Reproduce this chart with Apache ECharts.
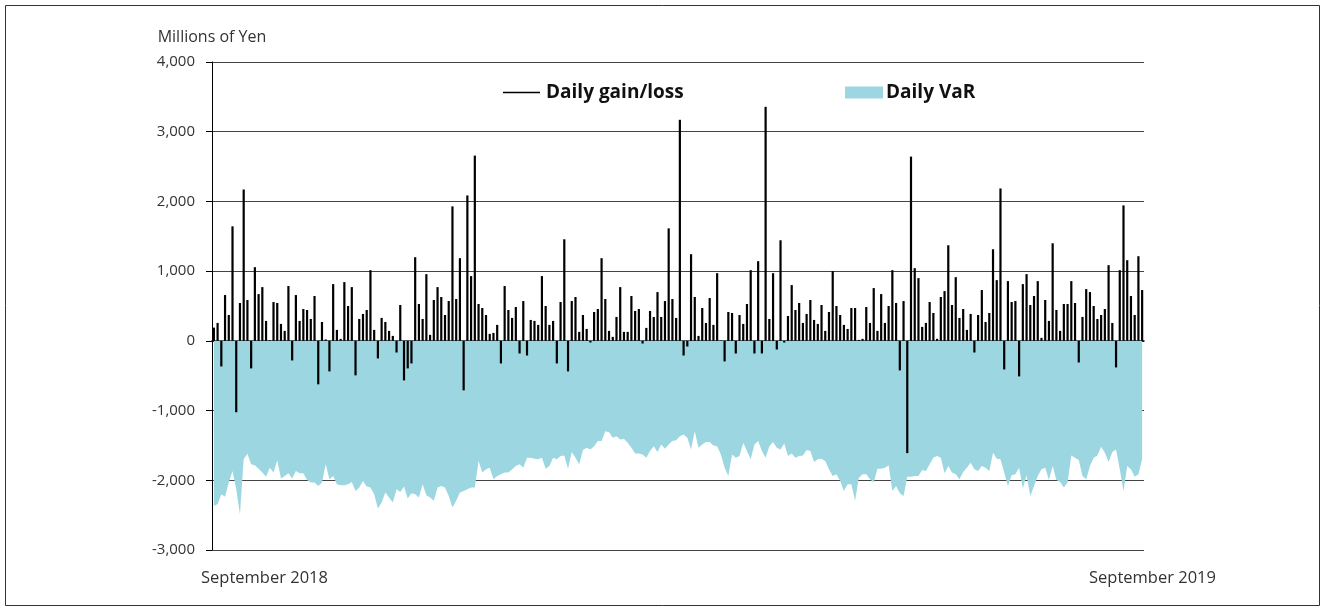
<!DOCTYPE html>
<html>
<head>
<meta charset="utf-8">
<script src="https://cdn.jsdelivr.net/npm/echarts@6/dist/echarts.min.js"></script>
<style>
html,body{margin:0;padding:0;background:#fff;}
#chart{width:1326px;height:609px;}
</style>
</head>
<body>
<div id="chart"></div>
<script>
// Daily gain/loss (millions of yen), Sept 2018 -> Sept 2019
const gainLoss = [
 190,257,-367,657,371,1643,-1024,543,2171,586,-395,1057,671,771,286,10,557,543,243,143,786,-281,657,286,457,443,314,643,-624,271,20,-438,814,157,29,843,500,771,-495,314,386,
 443,1014,157,-252,329,271,143,71,-167,514,-567,-395,-324,1200,529,314,957,86,586,771,629,371,571,1929,600,1186,-710,2086,929,2657,529,471,371,100,114,229,-324,786,443,329,486,
 -181,571,-210,300,286,229,929,500,229,286,-324,557,1457,-438,571,629,129,371,171,-24,414,457,1186,600,143,57,343,771,129,129,643,429,457,-38,186,429,343,700,343,571,1614,600,
 329,3171,-210,-81,1243,629,71,471,257,614,229,971,5,-295,414,400,-181,371,243,529,1014,-181,1143,-181,3357,314,971,-124,1443,-24,357,800,443,543,257,386,586,300,243,514,143,414,
 1000,500,371,229,171,471,471,14,29,486,257,757,143,671,257,500,1014,543,-424,571,-1610,2643,1043,900,200,257,557,400,29,629,714,1371,514,914,329,457,157,386,-167,371,729,
 271,400,1314,871,2186,-410,857,557,571,-510,814,957,514,643,857,43,586,286,1400,443,143,529,529,857,543,-310,343,743,700,500,314,371,457,1086,257,-381,1014,1943,1157,643,371,1214,729
];
// Daily VaR (millions of yen)
const dailyVaR = [
 -2367,-2343,-2200,-2236,-2033,-1867,-2128,-2486,-1700,-1619,-1771,-1786,-1833,-1890,-1948,-1819,-1890,-1714,-1976,-1938,-1900,-1976,-1867,-1900,-1900,-1995,-2033,-2033,-2081,-2033,-1771,-1986,-1938,-2057,-2071,-2071,-2057,-2024,-2152,-2105,-2010,
 -2090,-2105,-2200,-2405,-2319,-2176,-2248,-2319,-2128,-2167,-2090,-2262,-2186,-2200,-2248,-2057,-2214,-2248,-2295,-2105,-2081,-2105,-2224,-2390,-2295,-2176,-2152,-2128,-2105,-2105,-1724,-1890,-1843,-1819,-1986,-1938,-1914,-1890,-1890,-1843,-1795,
 -1771,-1819,-1676,-1676,-1690,-1700,-1676,-1833,-1795,-1676,-1700,-1652,-1643,-1833,-1595,-1676,-1771,-1567,-1533,-1557,-1510,-1438,-1438,-1295,-1310,-1390,-1367,-1414,-1405,-1462,-1533,-1614,-1614,-1629,-1676,-1581,-1510,-1595,-1486,-1548,-1486,-1438,
 -1424,-1367,-1343,-1390,-1557,-1295,-1533,-1486,-1452,-1452,-1500,-1510,-1629,-1819,-1938,-1629,-1676,-1652,-1462,-1581,-1700,-1486,-1438,-1581,-1676,-1510,-1452,-1533,-1557,-1471,-1652,-1614,-1676,-1652,-1643,-1567,-1581,-1738,-1700,-1690,-1724,-1843,
 -1938,-1914,-2010,-2152,-2057,-2057,-2295,-1962,-1914,-1914,-1986,-2033,-1833,-1833,-1819,-1786,-2152,-2081,-2186,-2224,-1948,-1948,-1938,-1938,-1852,-1867,-1771,-1676,-1652,-1676,-1900,-1795,-1890,-1914,-1986,-1881,-1819,-1748,-1843,-1867,-1795,
 -1819,-1867,-1605,-1690,-1700,-1890,-2081,-1929,-1914,-1819,-2119,-1929,-2224,-2081,-1938,-1843,-1819,-1995,-1795,-1995,-2024,-2105,-2033,-1643,-1676,-1710,-1938,-1986,-1795,-1676,-1643,-1519,-1605,-1738,-1595,-1557,-1843,-2152,-1795,-1843,-1948,-1914,-1700
];
const days = gainLoss.map((_, i) => 'Day ' + (i + 1));
const xEndLabels = ['September 2018', 'September 2019'];
const seriesNames = ['Daily gain/loss', 'Daily VaR'];
const yTitle = 'Millions of Yen';

const FONT = '"Open Sans", "Noto Sans", sans-serif';
const VAR_COLOR = '#9CD6E1';

const chart = echarts.init(document.getElementById('chart'), null, {renderer: 'canvas'});
chart.setOption({
  animation: false,
  textStyle: {fontFamily: FONT},
  grid: {left: 212, right: 182, top: 62, bottom: 59},
  legend: [
    {
      data: [{name: seriesNames[0], icon: 'path://M0,0H40V1.7H0Z'}],
      left: 503, top: 83, padding: 0, itemWidth: 37, itemHeight: 12, itemGap: 0,
      textStyle: {fontSize: 19, fontWeight: 'bold', color: '#111', fontFamily: FONT, padding: [0, 0, 0, 1]}
    },
    {
      data: [{name: seriesNames[1], icon: 'rect'}],
      left: 845, top: 83, padding: 0, itemWidth: 38, itemHeight: 12, itemGap: 0,
      textStyle: {fontSize: 19, fontWeight: 'bold', color: '#111', fontFamily: FONT, padding: [0, 0, 0, -2]}
    }
  ],
  xAxis: {
    type: 'category',
    data: days,
    boundaryGap: true,
    axisLine: {onZero: true, lineStyle: {color: '#000', width: 1.5}},
    axisTick: {show: false},
    axisLabel: {show: false},
    splitLine: {show: false}
  },
  yAxis: {
    type: 'value',
    min: -3000, max: 4000, interval: 1000,
    name: yTitle,
    nameLocation: 'end',
    nameGap: 17,
    nameTextStyle: {fontSize: 16, color: '#333', fontFamily: FONT, align: 'center'},
    axisLine: {show: true, lineStyle: {color: '#000', width: 1}},
    axisTick: {show: true, length: 6, lineStyle: {color: '#000'}},
    axisLabel: {fontSize: 15, color: '#333', margin: 17, fontFamily: FONT,
      formatter: v => v.toLocaleString('en-US')},
    splitLine: {show: true, lineStyle: {color: '#444', width: 1}}
  },
  series: [
    {
      name: seriesNames[1], type: 'line', data: dailyVaR,
      showSymbol: false, symbol: 'none',
      lineStyle: {width: 0, color: VAR_COLOR},
      itemStyle: {color: VAR_COLOR},
      areaStyle: {color: VAR_COLOR, opacity: 1},
      z: 1
    },
    {
      name: seriesNames[0], type: 'bar', data: gainLoss,
      barWidth: 2.2,
      itemStyle: {color: '#000'},
      z: 3
    }
  ],
  graphic: [
    {type: 'rect', silent: true, shape: {x: 5.5, y: 5.5, width: 1314, height: 600},
     style: {fill: 'none', stroke: '#333', lineWidth: 1}},
    {type: 'text', left: 201, top: 570,
     style: {text: xEndLabels[0], font: '16.5px ' + FONT, fill: '#333'}},
    {type: 'text', left: 1089, top: 570,
     style: {text: xEndLabels[1], font: '16.5px ' + FONT, fill: '#333'}}
  ]
});
</script>
</body>
</html>
